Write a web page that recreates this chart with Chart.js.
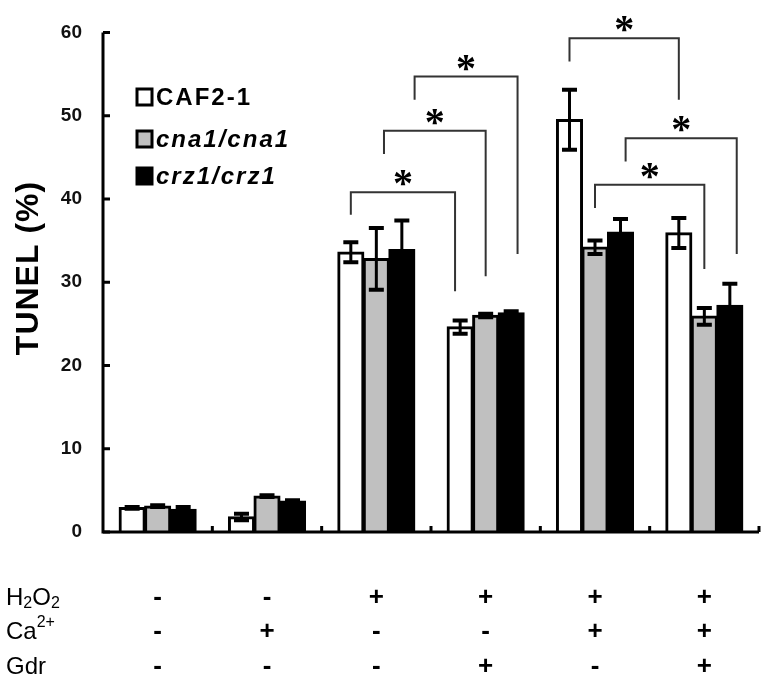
<!DOCTYPE html>
<html>
<head>
<meta charset="utf-8">
<script src="https://cdn.jsdelivr.net/npm/chart.js@4/dist/chart.umd.min.js"></script>
<style>
  html, body { margin: 0; padding: 0; background: #fff; }
  canvas { display: block; }
</style>
</head>
<body>
<canvas id="chart" width="768" height="683"></canvas>
<script>
// treatments per group (table under the chart)
const h2o2 = ['-', '-', '+', '+', '+', '+'];
const calcium = ['-', '+', '-', '-', '+', '+'];
const gdr = ['-', '-', '-', '+', '-', '+'];
const categories = ['1', '2', '3', '4', '5', '6'];

// TUNEL (%) means and error bars
const caf2 = [2.9, 1.8, 33.6, 24.6, 49.5, 35.9];
const cna1 = [3.1, 4.3, 32.8, 26.0, 34.2, 25.9];
const crz1 = [2.7, 3.7, 33.9, 26.3, 36.0, 27.2];
const caf2Err = [0.1, 0.4, 1.2, 0.8, 3.6, 1.8];
const cna1Err = [0.1, 0.1, 3.7, 0.2, 0.8, 1.0];
const crz1Err = [0.3, 0.1, 3.5, 0.2, 1.6, 2.6];

const yTicks = [0, 10, 20, 30, 40, 50, 60];
const seriesNames = ['CAF2-1', 'cna1/cna1', 'crz1/crz1'];

// significance brackets: [group, bar, shift in bar widths] for each end, then y values
const brackets = [
  { a: [2, 0, 0], b: [3, 0, -0.2], top: 40.8, aEnd: 38.1, bEnd: 28.9 },
  { a: [2, 1, 0.3], b: [3, 1, 0], top: 48.2, aEnd: 45.4, bEnd: 30.7 },
  { a: [2, 2, 0.5], b: [3, 2, 0.25], top: 54.7, aEnd: 51.9, bEnd: 33.4 },
  { a: [4, 0, 0], b: [5, 0, 0], top: 59.3, aEnd: 56.5, bEnd: 51.9 },
  { a: [4, 2, 0.2], b: [5, 2, 0.27], top: 47.3, aEnd: 44.5, bEnd: 33.4 },
  { a: [4, 1, 0], b: [5, 1, 0], top: 41.7, aEnd: 38.9, bEnd: 31.6 }
];

const FONT = '"Liberation Sans", Arial, sans-serif';
const errors = [caf2Err, cna1Err, crz1Err];
const fills = ['#ffffff', '#c0c0c0', '#000000'];

const extras = {
  id: 'extras',
  afterDatasetsDraw(chart) {
    const ctx = chart.ctx;
    const area = chart.chartArea;
    const y = chart.scales.y;
    const x = chart.scales.x;
    ctx.save();

    // error bars
    ctx.strokeStyle = '#000';
    errors.forEach((errs, i) => {
      const meta = chart.getDatasetMeta(i);
      meta.data.forEach((bar, j) => {
        const v = chart.data.datasets[i].data[j];
        const yt = y.getPixelForValue(v + errs[j]);
        const yb = y.getPixelForValue(v - errs[j]);
        ctx.lineWidth = 3;
        ctx.beginPath();
        ctx.moveTo(bar.x, yt);
        ctx.lineTo(bar.x, yb);
        ctx.stroke();
        ctx.lineWidth = 4;
        ctx.beginPath();
        ctx.moveTo(bar.x - 7.5, yt);
        ctx.lineTo(bar.x + 7.5, yt);
        ctx.moveTo(bar.x - 7.5, yb);
        ctx.lineTo(bar.x + 7.5, yb);
        ctx.stroke();
      });
    });

    // axes
    ctx.lineWidth = 3;
    ctx.beginPath();
    ctx.moveTo(area.left, area.top);
    ctx.lineTo(area.left, area.bottom);
    ctx.lineTo(area.right, area.bottom);
    ctx.stroke();
    ctx.beginPath();
    yTicks.forEach(t => {
      const py = y.getPixelForValue(t);
      ctx.moveTo(area.left, py);
      ctx.lineTo(area.left + 7, py);
    });
    for (let i = 0; i < categories.length; i++) {
      const px = x.getPixelForValue(i + 0.5);
      ctx.moveTo(px, area.bottom);
      ctx.lineTo(px, area.bottom - 6);
    }
    ctx.stroke();

    // brackets and stars
    const barW = chart.getDatasetMeta(0).data[0].width;
    const endX = e => chart.getDatasetMeta(e[1]).data[e[0]].x + e[2] * barW;
    ctx.strokeStyle = '#333';
    ctx.lineWidth = 2;
    ctx.fillStyle = '#000';
    ctx.font = 'bold 40px "Liberation Serif", "Times New Roman", serif';
    ctx.textAlign = 'center';
    ctx.textBaseline = 'alphabetic';
    const m = ctx.measureText('*');
    const starMid = (m.actualBoundingBoxAscent - m.actualBoundingBoxDescent) / 2;
    brackets.forEach(b => {
      const xa = endX(b.a), xb = endX(b.b);
      const yt = y.getPixelForValue(b.top);
      ctx.beginPath();
      ctx.moveTo(xa, y.getPixelForValue(b.aEnd));
      ctx.lineTo(xa, yt);
      ctx.lineTo(xb, yt);
      ctx.lineTo(xb, y.getPixelForValue(b.bEnd));
      ctx.stroke();
      ctx.fillText('*', (xa + xb) / 2, yt - 14 + starMid);
    });

    // legend
    const rows = [97, 139, 176];
    ctx.textAlign = 'left';
    ctx.textBaseline = 'middle';
    ctx.letterSpacing = '2px';
    seriesNames.forEach((name, i) => {
      ctx.fillStyle = fills[i];
      ctx.fillRect(137, rows[i] - 8, 15, 16);
      ctx.strokeStyle = '#000';
      ctx.lineWidth = 3;
      ctx.strokeRect(137, rows[i] - 8, 15, 16);
      ctx.fillStyle = '#000';
      ctx.font = (i === 0 ? 'bold ' : 'italic bold ') + '24px ' + FONT;
      ctx.fillText(name, 156, rows[i] + 1);
    });
    ctx.letterSpacing = '0px';

    // y title
    ctx.save();
    ctx.translate(29, 268);
    ctx.rotate(-Math.PI / 2);
    ctx.textAlign = 'center';
    ctx.textBaseline = 'middle';
    ctx.letterSpacing = '1px';
    ctx.font = 'bold 32px ' + FONT;
    ctx.fillText('TUNEL (%)', 0, 0);
    ctx.restore();

    // treatment table
    const tableRows = [
      { y: 598, parts: [['H', 0], ['2', 6], ['O', 0], ['2', 6]], vals: h2o2 },
      { y: 632, parts: [['Ca', 0], ['2+', -9]], vals: calcium },
      { y: 667, parts: [['Gdr', 0]], vals: gdr }
    ];
    ctx.textBaseline = 'middle';
    ctx.fillStyle = '#000';
    tableRows.forEach(r => {
      let px = 6;
      ctx.textAlign = 'left';
      r.parts.forEach(p => {
        ctx.font = (p[1] === 0 ? '24px ' : '16px ') + FONT;
        ctx.fillText(p[0], px, r.y + p[1]);
        px += ctx.measureText(p[0]).width;
      });
      ctx.textAlign = 'center';
      ctx.font = 'bold 26px ' + FONT;
      r.vals.forEach((v, i) => {
        ctx.fillText(v, x.getPixelForValue(i), r.y);
      });
    });

    ctx.restore();
  }
};

const barStyle = {
  borderColor: '#000',
  borderWidth: 3,
  borderSkipped: 'bottom',
  inflateAmount: 0.8,
  categoryPercentage: 0.7,
  barPercentage: 1.0
};

new Chart(document.getElementById('chart'), {
  type: 'bar',
  data: {
    labels: categories,
    datasets: [
      { label: seriesNames[0], data: caf2, backgroundColor: fills[0], ...barStyle },
      { label: seriesNames[1], data: cna1, backgroundColor: fills[1], ...barStyle },
      { label: seriesNames[2], data: crz1, backgroundColor: fills[2], ...barStyle }
    ]
  },
  options: {
    responsive: false,
    animation: false,
    layout: { padding: { left: 0, right: 9, top: 22, bottom: 151 } },
    plugins: { legend: { display: false }, tooltip: { enabled: false } },
    scales: {
      x: { display: false },
      y: {
        min: 0,
        max: 60,
        afterFit: s => { s.width = 103; },
        afterBuildTicks: s => { s.ticks = yTicks.map(v => ({ value: v })); },
        grid: { display: false, drawTicks: false },
        border: { display: false },
        ticks: {
          padding: 21,
          color: '#111',
          font: { family: FONT, size: 19, weight: 'bold' }
        }
      }
    }
  },
  plugins: [extras]
});
</script>
</body>
</html>
